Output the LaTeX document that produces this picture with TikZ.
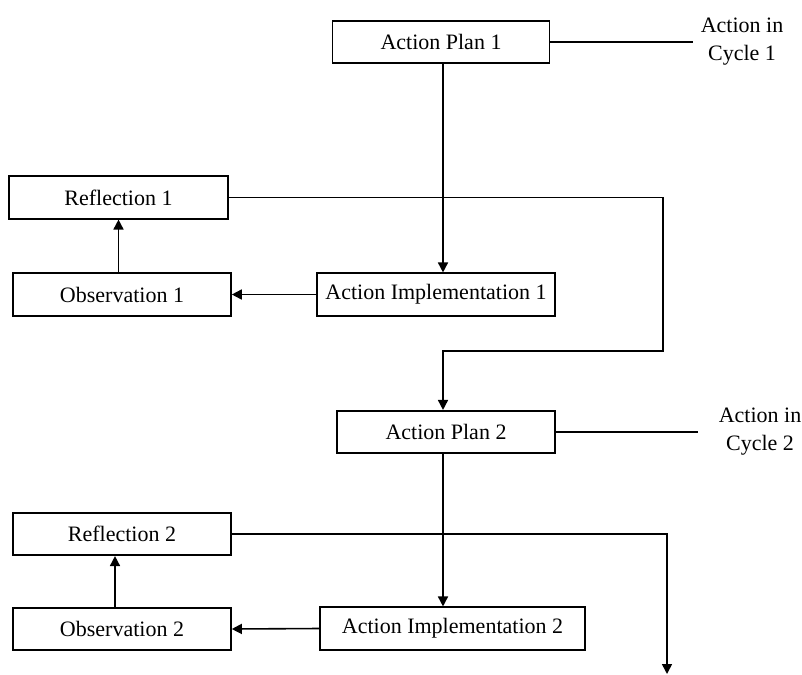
\documentclass[tikz,border=0pt]{standalone}
\usepackage{fontspec}
\setmainfont{Liberation Serif}
\usetikzlibrary{arrows.meta}

\begin{document}
\begin{tikzpicture}[x=1pt,y=-1pt,line width=1.6pt]
\tikzstyle{every node}+=[font=\fontsize{22}{28}\selectfont]
\tikzstyle{box}=[draw,black,rectangle,inner sep=0pt,minimum height=42.5pt]
\tikzstyle{cyclelabel}=[align=center,inner sep=0pt]
\tikzstyle{arr}=[-{Triangle[length=10pt,width=10pt]}]
\useasboundingbox (0,0) rectangle (802,674);
\node [box,minimum width=217pt] (ap1) at (441,42) {Action Plan 1};
\node [box,minimum width=219pt] (ref1) at (118.5,197.5) {Reflection 1};
\node [box,minimum width=218pt] (obs1) at (122,294.5) {Observation 1};
\node [box,minimum width=238pt] (ai1) at (436,294.5) {Action Implementation 1};
\node [box,minimum width=218pt] (ap2) at (446,432) {Action Plan 2};
\node [box,minimum width=218pt] (ref2) at (122,534) {Reflection 2};
\node [box,minimum width=218pt] (obs2) at (122,629) {Observation 2};
\node [box,minimum width=265pt] (ai2) at (452.5,628.5) {Action Implementation 2};
\node [cyclelabel] (cyc1) at (742,42) {Action in\\Cycle 1};
\node [cyclelabel] (cyc2) at (760,432) {Action in\\Cycle 2};
\coordinate (turn1) at (663,351);
\coordinate (end2) at (667,674);
\draw [black] (ap1.east) -- ([xshift=-7pt]ap1.east -| cyc1.west);
\draw [black] (ap2.east) -- ([xshift=-20pt]ap2.east -| cyc2.west);
\draw [black,arr] ([xshift=2pt]ap1.south) -- ([xshift=2pt]ap1.south |- ai1.north);
\draw [black,arr] (ai1.west) -- (obs1.east);
\draw [black,arr] (ref1.south |- obs1.north) -- (ref1.south);
\draw [black,arr] (ref1.east) -| (turn1) -| ([xshift=2pt]ap1.south |- ap2.north);
\draw [black,arr] ([xshift=2pt]ap1.south |- ap2.south) -- ([xshift=2pt]ap1.south |- ai2.north);
\draw [black,arr] (ai2.west) -- (obs2.east);
\draw [black,arr] ([xshift=-7pt]obs2.north) -- ([xshift=-7pt]ref2.south);
\draw [black,arr] (ref2.east) -| (end2);
\end{tikzpicture}
\end{document}
